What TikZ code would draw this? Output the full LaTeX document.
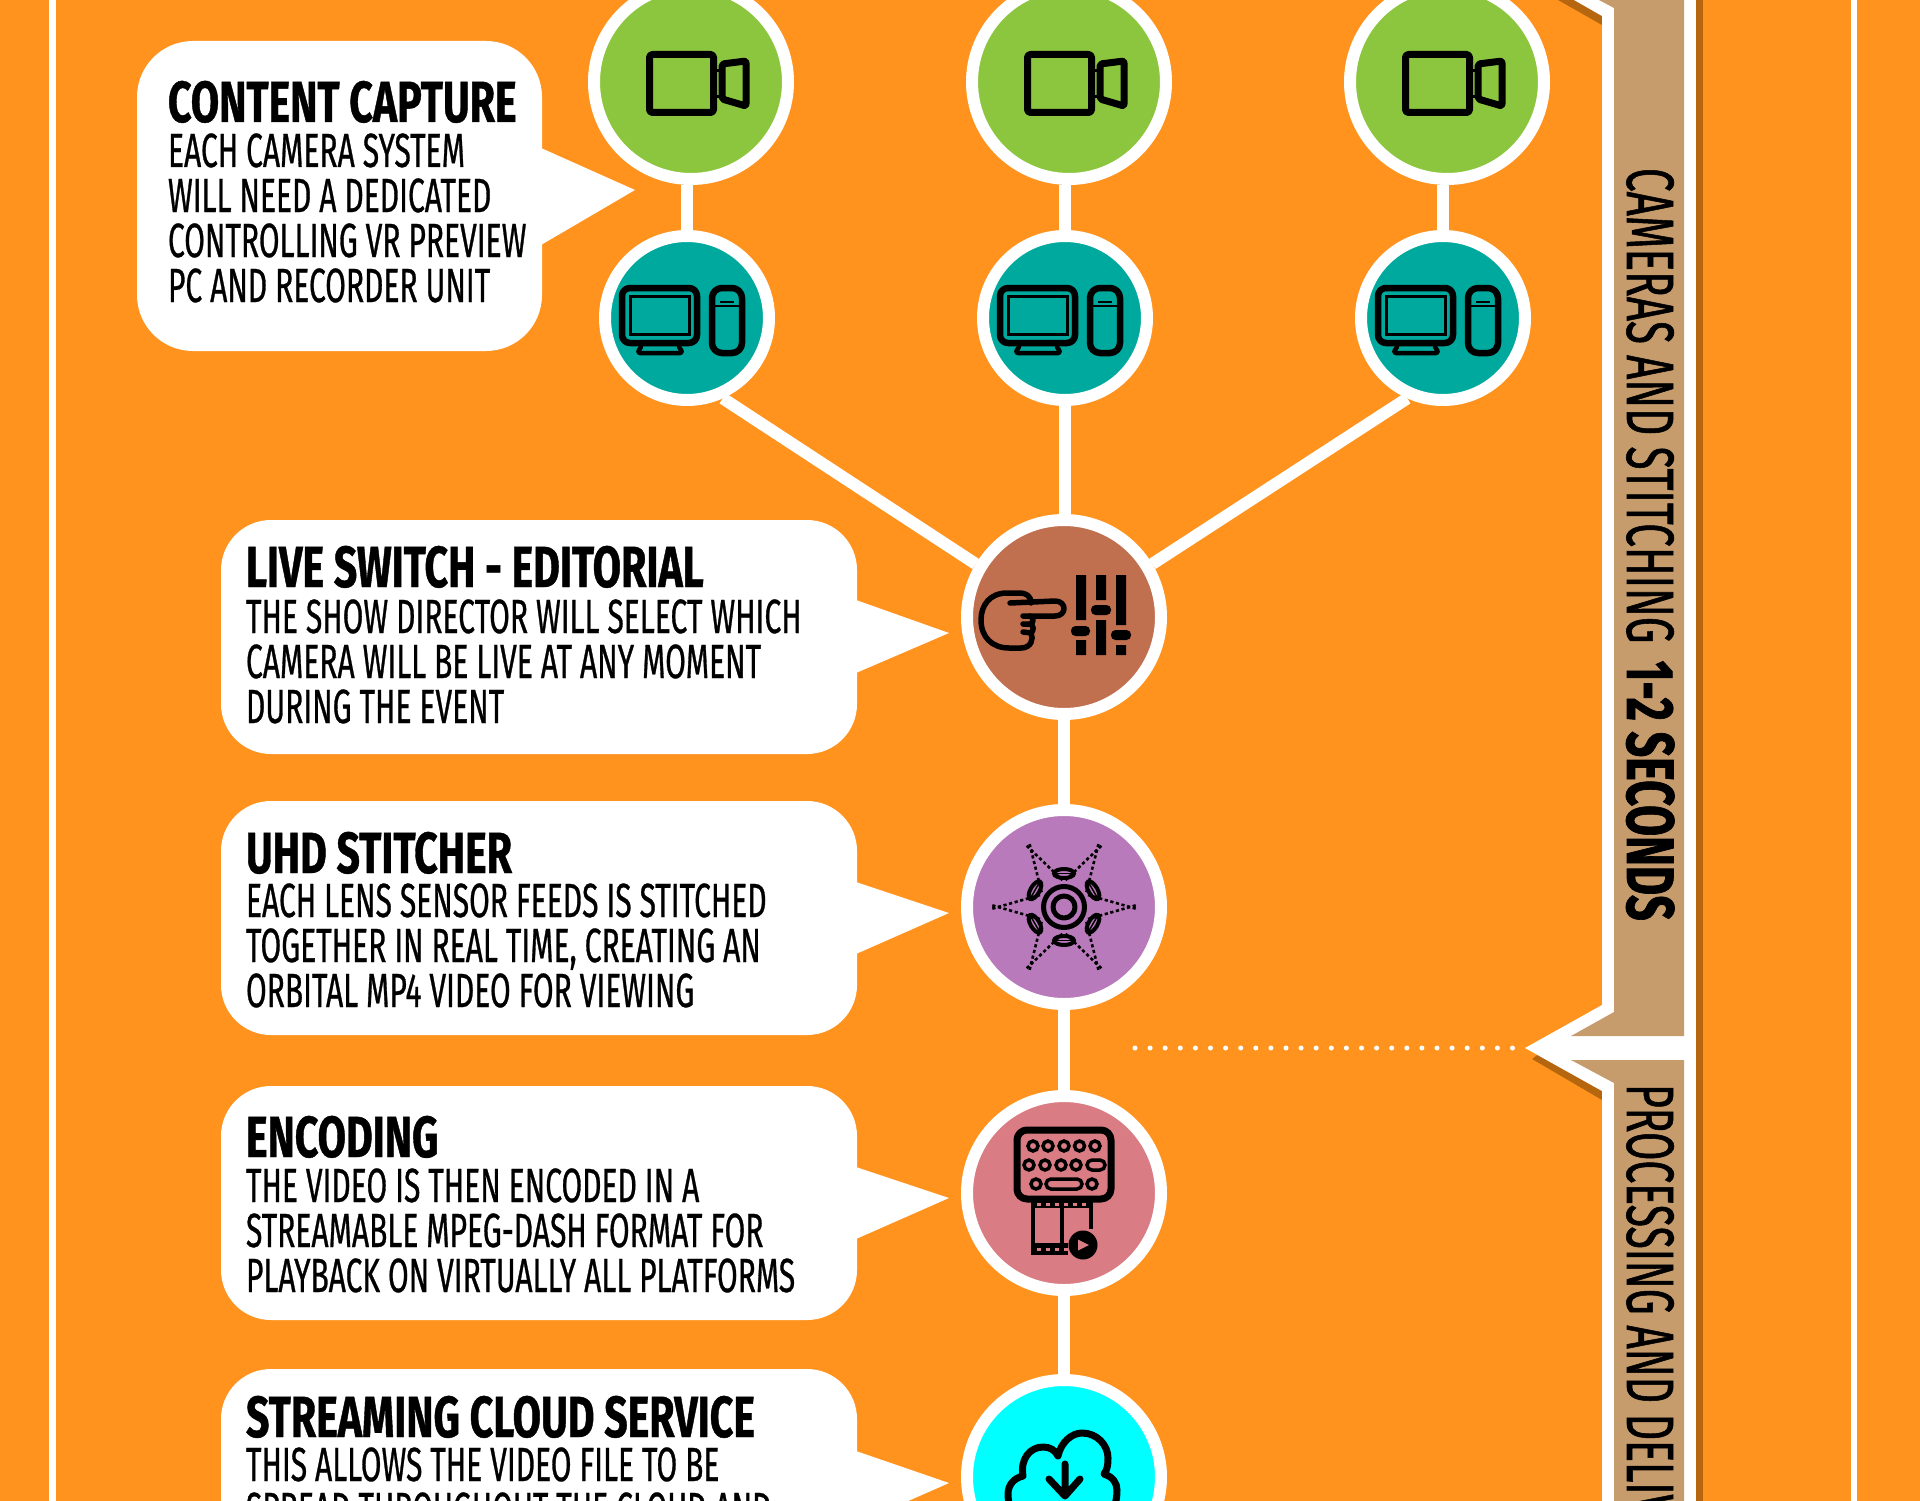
\documentclass[tikz,border=0pt]{standalone}
\usepackage{fontspec}
\setmainfont{Fira Sans}
\newfontfamily\bodyf[FakeStretch=.625,FakeBold=.6]{Fira Sans}
\newfontfamily\titlef[FakeStretch=.708,FakeBold=.7,BoldFont={Fira Sans Bold}]{Fira Sans}
\newfontfamily\bandf[FakeStretch=.61,FakeBold=.8]{Fira Sans}
\newfontfamily\bandg[FakeStretch=.63,FakeBold=.8]{Fira Sans}
\newfontfamily\bandbf[FakeStretch=.67,FakeBold=1,BoldFont={Fira Sans Bold}]{Fira Sans}
\definecolor{bgo}{HTML}{FF931E}
\definecolor{cgreen}{HTML}{8CC63F}
\definecolor{cteal}{HTML}{00A99D}
\definecolor{cbrown}{HTML}{C1704F}
\definecolor{cpurple}{HTML}{B87ABB}
\definecolor{cpink}{HTML}{DA7C84}
\definecolor{ccyan}{HTML}{00FFFF}
\definecolor{ctan}{HTML}{C69C6D}
\definecolor{cshadow}{HTML}{B5660F}
\tikzset{
  x=1pt,y=-1pt,
  ring/.style={circle,draw=white,line width=12pt,inner sep=0pt},
  bigring/.style={ring,minimum size=194pt},
  smallring/.style={ring,minimum size=164pt},
  conn/.style={draw=white,line width=12pt},
  bubble/.style={fill=white,rectangle,inner sep=0pt,outer sep=0pt,anchor=north west},
  head/.style={font=\titlef\bfseries\fontsize{58}{58}\selectfont,inner sep=0pt,outer sep=0pt,anchor=base west,text=black},
  line/.style={font=\bodyf\fontsize{48}{48}\selectfont,inner sep=0pt,outer sep=0pt,anchor=base west,text=black},
  bandtext/.style={font=\bandf\fontsize{67}{67}\selectfont,inner sep=0pt,outer sep=0pt,anchor=base west,rotate=-90,text=black},
  ico/.style={draw=black,line width=7pt,line join=round,line cap=round},
  thin/.style={draw=black,line width=3pt},
}
\newcommand{\camicon}[1]{\begin{scope}[shift={(#1)}]
  \draw[ico,rounded corners=3pt] (-41.5,-27.5) rectangle (22.5,30.5);
  \draw[ico,rounded corners=2pt] (31,-18) -- (55,-21) -- (55,24) -- (31,17) -- cycle;
  \draw[thin] (23,-11) -- (31,-11) (23,15) -- (31,15);
\end{scope}}
\newcommand{\pcicon}[1]{\begin{scope}[shift={(#1)}]
  \draw[ico,line width=6.5pt,rounded corners=8pt] (-65,-30) rectangle (10,25);
  \draw[thin] (-57,-22) rectangle (2,16);
  \draw[ico,line width=4.5pt,rounded corners=3pt] (-46,29) -- (-50,35) -- (-4,35) -- (-8,29);
  \draw[ico,line width=6.5pt,rounded corners=10pt] (25,-30) rectangle (55,35);
  \draw[thin,line width=2.5pt] (33,-16) -- (47,-16);
  \draw[thin,line width=2pt] (27,-12) -- (53,-12);
\end{scope}}
\begin{document}
\begin{tikzpicture}
\useasboundingbox (0,0) rectangle (1920,1501);
\fill[bgo] (0,0) rectangle (1920,1501);
% frame lines
\fill[white] (49,0) rectangle (55.5,1501);
\fill[white] (1851,0) rectangle (1857,1501);
% right band
\fill[cshadow] (1696,0) rectangle (1703,1501);
\fill[cshadow] (1558,0) -- (1602,25) -- (1602,15) -- (1575,0) -- cycle;
\fill[cshadow] (1532,1059) -- (1602,1100) -- (1602,1091) -- (1540,1053) -- cycle;
\fill[white] (1602,0) rectangle (1696,1501);
\fill[white] (1574,0) -- (1602,16) -- (1614,16) -- (1614,0) -- cycle;
\fill[white] (1602,1005) -- (1525,1048) -- (1602,1091) -- cycle;
\fill[ctan] (1599,0) -- (1614,8) -- (1614,1012) -- (1571,1036) -- (1684,1036) -- (1684,0) -- cycle;
\fill[ctan] (1571,1060) -- (1684,1060) -- (1684,1501) -- (1614,1501) -- (1614,1083) -- cycle;
\node[bandtext] (band1) at (1627,168) {{\bandg CAMERAS AND STITCHING }\hspace{6pt}{\bandbf\bfseries 1-2 SECONDS}};
\node[bandtext] (band2) at (1627,1084) {PROCESSING AND DELIV};
\coordinate (dotL) at (1135,1048);
\coordinate (dotR) at (1523,1048);
\draw[white,line width=5pt,line cap=round,dash pattern=on 0pt off 15.1pt] (dotL) -- (dotR);
% circles
\node[bigring,fill=cgreen] (cam1) at (691,82) {};
\node[bigring,fill=cgreen] (cam2) at (1069,82) {};
\node[bigring,fill=cgreen] (cam3) at (1447,82) {};
\node[smallring,fill=cteal] (pc1) at (687,318) {};
\node[smallring,fill=cteal] (pc2) at (1065,318) {};
\node[smallring,fill=cteal] (pc3) at (1443,318) {};
\node[bigring,fill=cbrown] (sw) at (1064,617) {};
\node[bigring,fill=cpurple] (st) at (1064,907) {};
\node[bigring,fill=cpink] (enc) at (1064,1193) {};
\node[bigring,fill=ccyan] (cld) at (1064,1477) {};
% connectors
\draw[conn] (pc1.north) -- (pc1.north |- cam1.south);
\draw[conn] (pc2.north) -- (pc2.north |- cam2.south);
\draw[conn] (pc3.north) -- (pc3.north |- cam3.south);
\draw[conn] (pc1.-66) -- (sw.149);
\draw[conn] (pc2.south) -- (pc2.south |- sw.north);
\draw[conn] (pc3.-114) -- (sw.31);
\draw[conn] (sw) -- (st);
\draw[conn] (st) -- (enc);
\draw[conn] (enc) -- (cld);
% bubbles
\node[bubble,rounded corners=56pt,minimum width=405pt,minimum height=310pt] (bub1) at (137,41) {};
\fill[white] (541,148) -- (635,190) -- (541,245) -- cycle;
\node[bubble,rounded corners=50pt,minimum width=636pt,minimum height=234pt] (bub2) at (221,520) {};
\fill[white] (856,600) -- (949,633) -- (856,673) -- cycle;
\node[bubble,rounded corners=50pt,minimum width=636pt,minimum height=234pt] (bub3) at (221,801) {};
\fill[white] (856,882) -- (949,913) -- (856,954) -- cycle;
\node[bubble,rounded corners=50pt,minimum width=636pt,minimum height=234pt] (bub4) at (221,1086) {};
\fill[white] (856,1167) -- (949,1198) -- (856,1239) -- cycle;
\node[bubble,rounded corners=50pt,minimum width=636pt,minimum height=234pt] (bub5) at (221,1369) {};
\fill[white] (856,1451) -- (949,1483) -- (856,1524) -- cycle;
% text
\node[head] (h1) at (168,122) {CONTENT CAPTURE};
\node[line] (l1a) at (168,167) {EACH CAMERA SYSTEM};
\node[line] (l1b) at (168,212) {WILL NEED A DEDICATED};
\node[line] (l1c) at (168,257) {CONTROLLING VR PREVIEW};
\node[line] (l1d) at (168,302) {PC AND RECORDER UNIT};
\node[head] (h2) at (246,587) {LIVE SWITCH - EDITORIAL};
\node[line] (l2a) at (246,633) {THE SHOW DIRECTOR WILL SELECT WHICH};
\node[line] (l2b) at (246,678) {CAMERA WILL BE LIVE AT ANY MOMENT};
\node[line] (l2c) at (246,723) {DURING THE EVENT};
\node[head] (h3) at (246,873) {UHD STITCHER};
\node[line] (l3a) at (246,917) {EACH LENS SENSOR FEEDS IS STITCHED};
\node[line] (l3b) at (246,962) {TOGETHER IN REAL TIME, CREATING AN};
\node[line] (l3c) at (246,1007) {ORBITAL MP4 VIDEO FOR VIEWING};
\node[head] (h4) at (246,1157) {ENCODING};
\node[line] (l4a) at (246,1202) {THE VIDEO IS THEN ENCODED IN A};
\node[line] (l4b) at (246,1247) {STREAMABLE MPEG-DASH FORMAT FOR};
\node[line] (l4c) at (246,1292) {PLAYBACK ON VIRTUALLY ALL PLATFORMS};
\node[head] (h5) at (246,1437) {STREAMING CLOUD SERVICE};
\node[line] (l5a) at (246,1481) {THIS ALLOWS THE VIDEO FILE TO BE};
\node[line] (l5b) at (246,1526) {SPREAD THROUGHOUT THE CLOUD AND};
% icons
\camicon{cam1}\camicon{cam2}\camicon{cam3}
\pcicon{pc1}\pcicon{pc2}\pcicon{pc3}
% hand and mixer
\begin{scope}[shift={(sw)}]
  \draw[ico,line width=5.5pt] (-33,-14) .. controls (-33,-21) and (-38,-24) .. (-44,-24) -- (-57,-24)
     .. controls (-74,-24) and (-83,-12) .. (-83,3)
     .. controls (-83,20) and (-72,31) .. (-55,31) -- (-43,31)
     .. controls (-33,31) and (-30,22) .. (-33,16) -- (-41,15)
     (-33,16) .. controls (-30,14) and (-30,8) .. (-34,7) -- (-41,7)
     (-34,7) .. controls (-30,6) and (-30,1) .. (-34,-1);
  \draw[ico,line width=5.5pt] (-54,-14) -- (-9,-16) .. controls (3,-16) and (3,-1) .. (-9,-1) -- (-41,-1);
  \fill[black] (12,-42) rectangle (22,3) (12,23) rectangle (22,38);
  \fill[black,rounded corners=4.5pt] (7,9) rectangle (26,19);
  \fill[black] (32,-42) rectangle (42,-17) (32,3) rectangle (42,38);
  \fill[black,rounded corners=4.5pt] (27,-12) rectangle (47,-2);
  \fill[black] (52,-42) rectangle (62,8) (52,28) rectangle (62,38);
  \fill[black,rounded corners=4.5pt] (47,13) rectangle (67,23);
\end{scope}
% stitcher
\begin{scope}[shift={(st)}]
  \draw[ico,line width=5pt] (0,0) circle[radius=20.5pt];
  \draw[ico,line width=5pt] (0,0) circle[radius=11pt];
  \foreach \a in {0,60,...,300}{
    \begin{scope}[rotate=\a]
      \draw[black,line width=2.6pt,dash pattern=on 3.2pt off 2.6pt] (24,-12) -- (73,2);
      \draw[black,line width=2.6pt,dash pattern=on 3.2pt off 2.6pt] (24,12) -- (73,-2);
    \end{scope}
    \begin{scope}[rotate=\a+30,shift={(33.5,0)}]
      \draw[black,line width=4pt] (0,0) ellipse[x radius=4.5pt,y radius=10pt];
      \draw[black,line width=1.5pt] (0,-9) -- (0,9);
    \end{scope}
  }
\end{scope}
% encoding
\begin{scope}[shift={(enc)}]
  \draw[ico,rounded corners=10pt] (-47,-63) rectangle (47,6);
  \foreach \x in {-31,-16,0,15.5,31} \draw[thin,line width=3.5pt] (\x,-47) circle[radius=5pt];
  \foreach \x in {-35,-19,-3,12} \draw[thin,line width=3.5pt] (\x,-28) circle[radius=5pt];
  \draw[thin,line width=3.5pt,rounded corners=5pt] (23,-33) rectangle (41,-23);
  \foreach \x in {-28,28} \draw[thin,line width=3.5pt] (\x,-9) circle[radius=5pt];
  \draw[thin,line width=3.5pt,rounded corners=5pt] (-18,-14) rectangle (18,-4);
  \fill[black] (-33,6) rectangle (29,15);
  \foreach \x in {-27,-18,-9,0,9,18} \fill[cpink] (\x,9.5) rectangle ++(4,3);
  \fill[black] (-33,9) rectangle (-29,62);
  \fill[black] (-4,14) rectangle (0,52);
  \fill[black] (25,14) rectangle (29,36);
  \fill[black] (-33,50) rectangle (4,62);
  \foreach \x in {-27,-18,-9,0} \fill[cpink] (\x,54.5) rectangle ++(4,3);
  \fill[black] (19,52) circle[radius=14.5pt];
  \fill[cpink] (14,46.5) -- (25,52) -- (14,57.5) -- cycle;
\end{scope}
% cloud
\begin{scope}[shift={(cld)}]
  \draw[ico,line width=7pt,line cap=butt] (-40,45) .. controls (-52,40) and (-56,28) .. (-56,17)
    .. controls (-56,8) and (-50,1) .. (-41,-1)
    .. controls (-44,-18) and (-34,-30) .. (-21,-30)
    .. controls (-14,-30) and (-9,-27) .. (-6,-21)
    .. controls (-3,-35) and (8,-44) .. (18,-44)
    .. controls (33,-44) and (44,-32) .. (44,-19)
    .. controls (44,-11) and (43,-7) .. (40,-3)
    .. controls (49,0) and (53,6) .. (53,13)
    .. controls (53,25) and (50,35) .. (40,45);
  \draw[ico,line width=7pt] (1,-13) -- (1,19) (-15,2) -- (1,19) -- (16,2);
\end{scope}
\end{tikzpicture}
\end{document}
